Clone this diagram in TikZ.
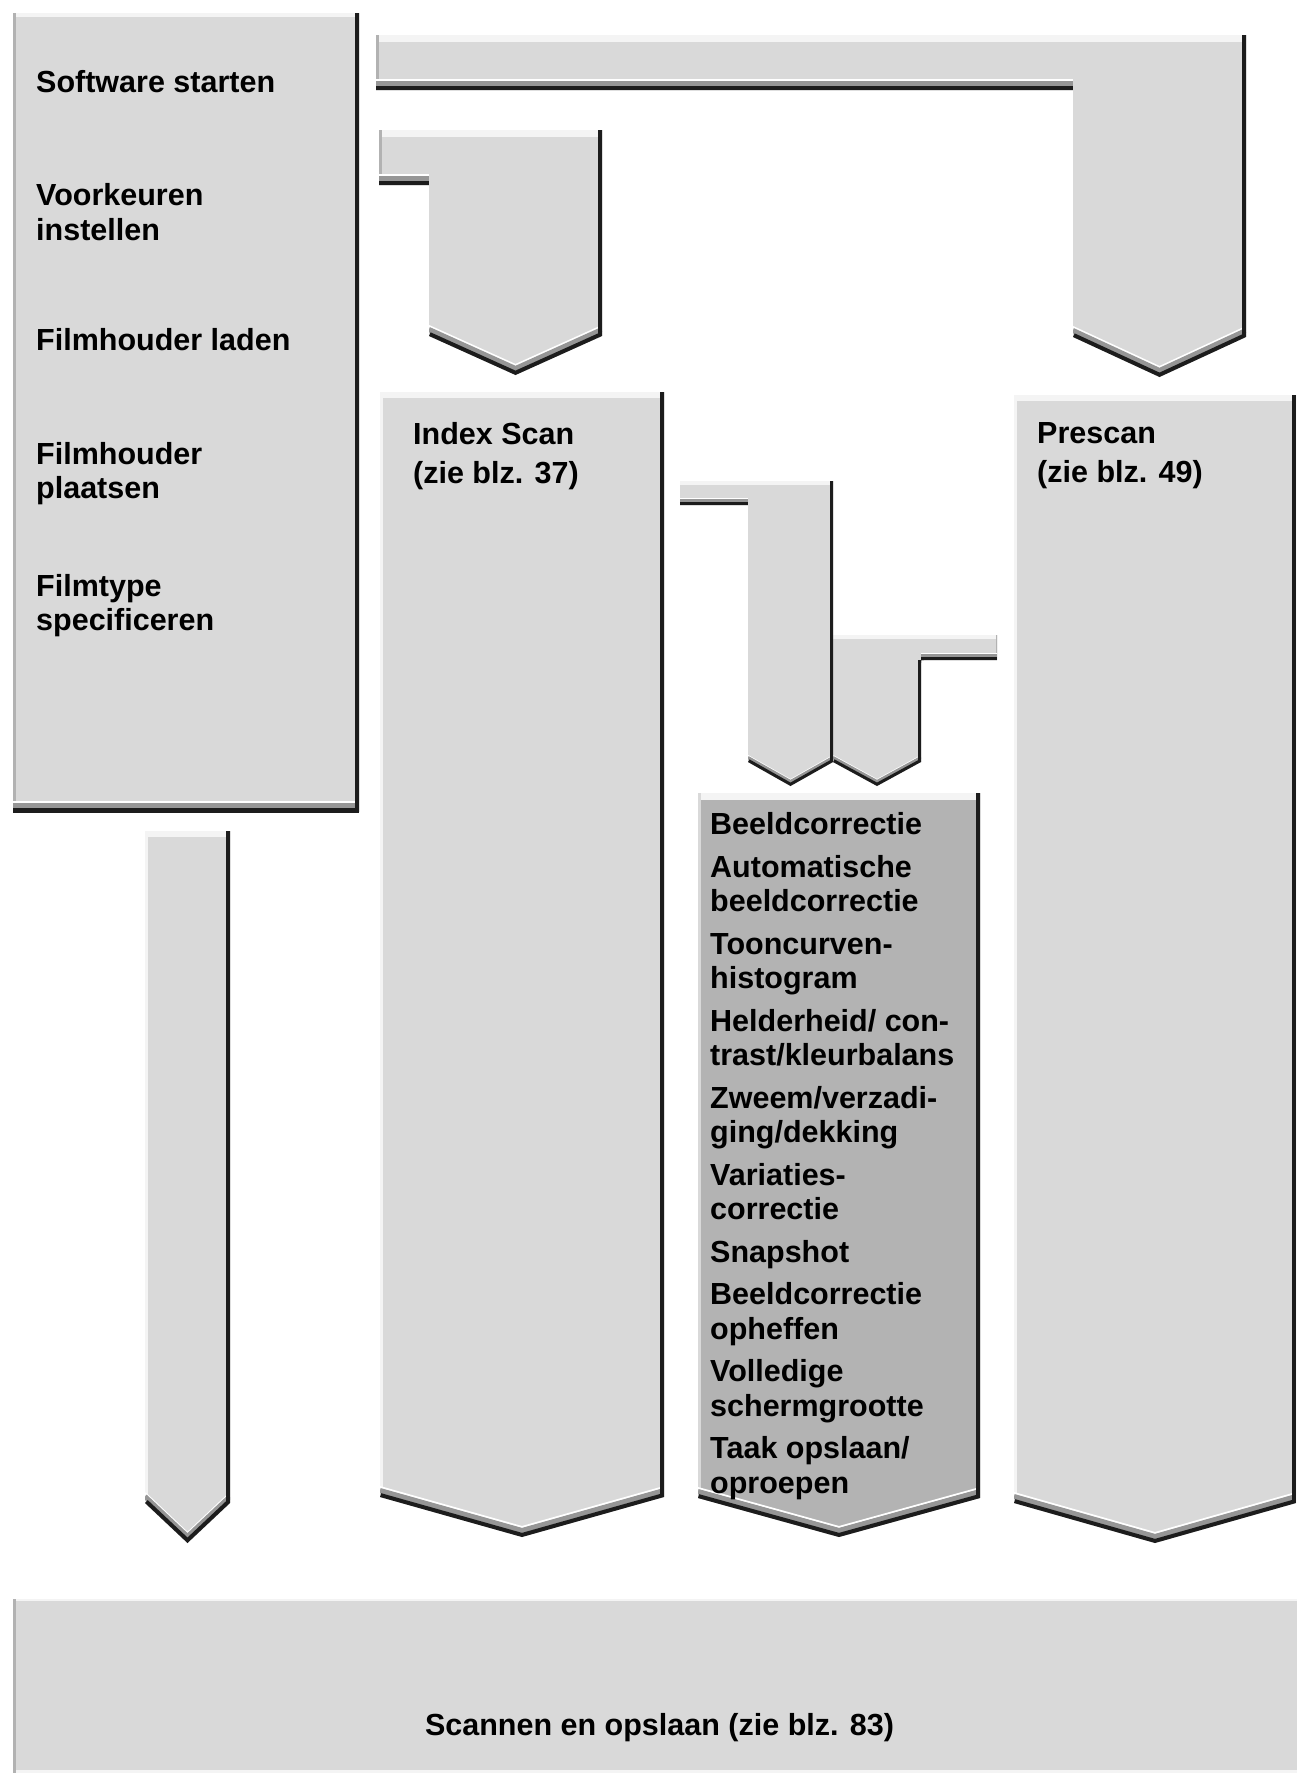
\documentclass[tikz,border=0pt]{standalone}
\usepackage{fontspec}
\setmainfont{Liberation Sans}
\definecolor{fillg}{RGB}{217,217,217}
\definecolor{darkfillg}{RGB}{179,179,179}
\definecolor{topg}{RGB}{244,244,244}
\definecolor{leftg}{RGB}{178,178,178}
\definecolor{bevg}{RGB}{150,150,150}
\definecolor{edgeblack}{RGB}{28,28,28}
\newcommand\lblfont{\fontsize{30.5}{34.5}\selectfont\bfseries}
\tikzset{
  shapefill/.style={fill=fillg},
  darkshapefill/.style={fill=darkfillg},
  topband/.style={fill=topg},
  leftline/.style={draw=leftg, line width=5pt},
  bevdark/.style={draw=edgeblack, line width=8pt},
  bevgray/.style={draw=bevg, line width=5pt},
  bevwhite/.style={draw=white, line width=2pt},
  lbl/.style={font=\lblfont, anchor=base west, inner sep=0pt, text=black},
}
\newcommand\bevelB[1]{%
  \draw[bevwhite, transform canvas={yshift=10pt}] #1;
  \draw[bevgray, transform canvas={yshift=6.5pt}] #1;
  \draw[bevdark] #1;}
\newcommand\bevelS[1]{%
  \draw[bevwhite, line width=1pt, transform canvas={yshift=6.5pt}] #1;
  \draw[bevgray, line width=3pt, transform canvas={yshift=4.5pt}] #1;
  \draw[bevdark, line width=6pt] #1;}
\begin{document}
\begin{tikzpicture}[x=1pt, y=-1pt, line join=miter]
\useasboundingbox (0,0) rectangle (1297,1773);
\fill[white] (0,0) rectangle (1297,1773);

% ---------- left box with steps ----------
\coordinate (L1) at (13,13);
\coordinate (L2) at (359,812);
\coordinate (L3) at (13,812);
\coordinate (L4) at (359,13);
\fill[shapefill] (L1) rectangle (L2);
\begin{scope}
  \clip (L1) rectangle (L2);
  \fill[topband] (13,13) rectangle (359,17);
  \draw[leftline] (L1) -- (L3);
  \bevelB{(L3) -- (L2)}
  \draw[bevdark] (L4) -- (L2);
\end{scope}

% ---------- connector A (Software starten -> Prescan) ----------
\coordinate (A1) at (376,35);
\coordinate (A2) at (1246,35);
\coordinate (A3) at (1246,337);
\coordinate (A4) at (1159.5,377);
\coordinate (A5) at (1073,337);
\coordinate (A6) at (1073,90);
\coordinate (A7) at (376,90);
\fill[shapefill] (A1) -- (A2) -- (A3) -- (A4) -- (A5) -- (A6) -- (A7) -- cycle;
\begin{scope}
  \clip (A1) -- (A2) -- (A3) -- (A4) -- (A5) -- (A6) -- (A7) -- cycle;
  \fill[topband] (376,35) rectangle (1246,42);
  \draw[leftline] (A1) -- (A7);
  \bevelB{(A7) -- (A6)}
  \bevelB{(A5) -- (A4) -- (A3)}
  \draw[bevdark] (A2) -- (A3);
\end{scope}

% ---------- connector B (Voorkeuren -> Index Scan) ----------
\coordinate (B1) at (379,130);
\coordinate (B2) at (602,130);
\coordinate (B3) at (602,336);
\coordinate (B4) at (515.5,375);
\coordinate (B5) at (429,336);
\coordinate (B6) at (429,185);
\coordinate (B7) at (379,185);
\fill[shapefill] (B1) -- (B2) -- (B3) -- (B4) -- (B5) -- (B6) -- (B7) -- cycle;
\begin{scope}
  \clip (B1) -- (B2) -- (B3) -- (B4) -- (B5) -- (B6) -- (B7) -- cycle;
  \fill[topband] (379,130) rectangle (602,137);
  \draw[leftline] (B1) -- (B7);
  \bevelB{(B7) -- (B6)}
  \bevelB{(B5) -- (B4) -- (B3)}
  \draw[bevdark] (B2) -- (B3);
\end{scope}

% ---------- connector D (Prescan -> Beeldcorrectie) ----------
\coordinate (D1) at (833,635);
\coordinate (D2) at (997,635);
\coordinate (D3) at (997,660);
\coordinate (D4) at (921,660);
\coordinate (D5) at (921,762);
\coordinate (D6) at (877,786);
\coordinate (D7) at (833,762);
\fill[shapefill] (D1) -- (D2) -- (D3) -- (D4) -- (D5) -- (D6) -- (D7) -- cycle;
\begin{scope}
  \clip (D1) -- (D2) -- (D3) -- (D4) -- (D5) -- (D6) -- (D7) -- cycle;
  \fill[topband] (833,635) rectangle (997,639);
  \draw[leftline, line width=3pt] (D2) -- (D3);
  \bevelS{(D4) -- (D3)}
  \bevelS{(D7) -- (D6) -- (D5)}
  \draw[bevdark, line width=6pt] (D4) -- (D5);
\end{scope}

% ---------- connector C (Index Scan -> Beeldcorrectie) ----------
\coordinate (C1) at (680,481);
\coordinate (C2) at (833,481);
\coordinate (C3) at (833,762);
\coordinate (C4) at (790.5,786);
\coordinate (C5) at (748,762);
\coordinate (C6) at (748,505);
\coordinate (C7) at (680,505);
\fill[shapefill] (C1) -- (C2) -- (C3) -- (C4) -- (C5) -- (C6) -- (C7) -- cycle;
\begin{scope}
  \clip (C1) -- (C2) -- (C3) -- (C4) -- (C5) -- (C6) -- (C7) -- cycle;
  \fill[topband] (680,481) rectangle (833,485);
  \bevelS{(C7) -- (C6)}
  \bevelS{(C5) -- (C4) -- (C3)}
  \draw[bevdark, line width=6pt] (C2) -- (C3);
\end{scope}

% ---------- left down arrow ----------
\coordinate (E1) at (145,831);
\coordinate (E2) at (230,831);
\coordinate (E3) at (230,1503);
\coordinate (E4) at (187.5,1543);
\coordinate (E5) at (145,1503);
\fill[shapefill] (E1) -- (E2) -- (E3) -- (E4) -- (E5) -- cycle;
\begin{scope}
  \clip (E1) -- (E2) -- (E3) -- (E4) -- (E5) -- cycle;
  \fill[topband] (145,831) rectangle (230,837);
  \draw[leftline, draw=topg] (E1) -- (E5);
  \bevelB{(E5) -- (E4) -- (E3)}
  \draw[bevdark] (E2) -- (E3);
\end{scope}

% ---------- Index Scan column ----------
\coordinate (F1) at (380,392);
\coordinate (F2) at (664,392);
\coordinate (F3) at (664,1497);
\coordinate (F4) at (522,1537);
\coordinate (F5) at (380,1497);
\fill[shapefill] (F1) -- (F2) -- (F3) -- (F4) -- (F5) -- cycle;
\begin{scope}
  \clip (F1) -- (F2) -- (F3) -- (F4) -- (F5) -- cycle;
  \fill[topband] (380,392) rectangle (664,398);
  \draw[leftline, draw=topg] (F1) -- (F5);
  \bevelB{(F5) -- (F4) -- (F3)}
  \draw[bevdark] (F2) -- (F3);
\end{scope}

% ---------- Beeldcorrectie column (dark) ----------
\coordinate (G1) at (698,793);
\coordinate (G2) at (980,793);
\coordinate (G3) at (980,1498);
\coordinate (G4) at (839,1537);
\coordinate (G5) at (698,1498);
\fill[darkshapefill] (G1) -- (G2) -- (G3) -- (G4) -- (G5) -- cycle;
\begin{scope}
  \clip (G1) -- (G2) -- (G3) -- (G4) -- (G5) -- cycle;
  \fill[topband] (698,793) rectangle (980,800);
  \draw[leftline, draw=fillg] (G1) -- (G5);
  \bevelB{(G5) -- (G4) -- (G3)}
  \draw[bevdark] (G2) -- (G3);
\end{scope}

% ---------- Prescan column ----------
\coordinate (H1) at (1014,395);
\coordinate (H2) at (1296,395);
\coordinate (H3) at (1296,1503);
\coordinate (H4) at (1155,1543);
\coordinate (H5) at (1014,1503);
\fill[shapefill] (H1) -- (H2) -- (H3) -- (H4) -- (H5) -- cycle;
\begin{scope}
  \clip (H1) -- (H2) -- (H3) -- (H4) -- (H5) -- cycle;
  \fill[topband] (1014,395) rectangle (1296,401);
  \draw[leftline, draw=topg] (H1) -- (H5);
  \bevelB{(H5) -- (H4) -- (H3)}
  \draw[bevdark] (H2) -- (H3);
\end{scope}

% ---------- bottom bar ----------
\coordinate (S1) at (13,1599);
\coordinate (S2) at (1297,1773);
\fill[shapefill] (S1) rectangle (S2);
\begin{scope}
  \clip (S1) rectangle (S2);
  \fill[topband] (13,1599) rectangle (1297,1601);
  \fill[topband] (13,1770) rectangle (1297,1773);
  \draw[leftline] (13,1599) -- (13,1773);
\end{scope}

% ---------- texts ----------
\node[lbl] (t1) at (36,92) {Software starten};
\node[lbl] (t2) at (36,205) {Voorkeuren};
\node[lbl] (t2b) at (36,240) {instellen};
\node[lbl] (t3) at (36,350) {Filmhouder laden};
\node[lbl] (t4) at (36,464) {Filmhouder};
\node[lbl] (t4b) at (36,498) {plaatsen};
\node[lbl] (t5) at (36,596) {Filmtype};
\node[lbl] (t5b) at (36,630) {specificeren};

\node[lbl] (i1) at (413,444) {Index Scan};
\node[lbl] (i2) at (413,483) {(zie blz. 37)};

\node[lbl] (p1) at (1037,443) {Prescan};
\node[lbl] (p2) at (1037,482) {(zie blz. 49)};

\node[lbl] (b1) at (710,834) {Beeldcorrectie};
\node[lbl] (b2) at (710,877) {Automatische};
\node[lbl] (b2b) at (710,911.5) {beeldcorrectie};
\node[lbl] (b3) at (710,954) {Tooncurven-};
\node[lbl] (b3b) at (710,988.5) {histogram};
\node[lbl] (b4) at (710,1031) {Helderheid/ con-};
\node[lbl] (b4b) at (710,1065.5) {trast/kleurbalans};
\node[lbl] (b5) at (710,1108) {Zweem/verzadi-};
\node[lbl] (b5b) at (710,1142.5) {ging/dekking};
\node[lbl] (b6) at (710,1185) {Variaties-};
\node[lbl] (b6b) at (710,1219.5) {correctie};
\node[lbl] (b7) at (710,1262) {Snapshot};
\node[lbl] (b8) at (710,1304.5) {Beeldcorrectie};
\node[lbl] (b8b) at (710,1339) {opheffen};
\node[lbl] (b9) at (710,1381.5) {Volledige};
\node[lbl] (b9b) at (710,1416) {schermgrootte};
\node[lbl] (b10) at (710,1458.5) {Taak opslaan/};
\node[lbl] (b10b) at (710,1493) {oproepen};

\node[lbl, anchor=base] (s1) at (659.5,1735) {Scannen en opslaan (zie blz. 83)};
\end{tikzpicture}
\end{document}
